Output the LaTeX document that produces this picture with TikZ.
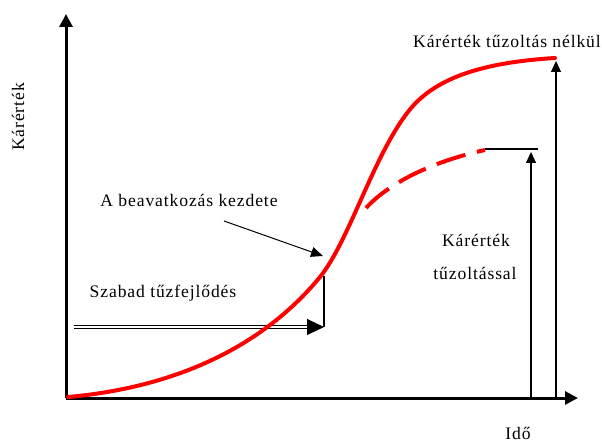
\documentclass[tikz,border=0pt]{standalone}
\usepackage{fontspec}
\setmainfont[LetterSpace=5]{Liberation Serif}
\usetikzlibrary{arrows.meta,calc}

\begin{document}
\begin{tikzpicture}[x=1pt,y=-1pt,
  lbl/.style={font=\fontsize{17.6}{20}\selectfont, inner sep=0pt, anchor=base},
  axis/.style={line width=3pt, -{Triangle[length=13pt,width=13pt]}},
  fire/.style={red, line width=4pt, line cap=round, line join=round},
  pointer/.style={line width=1.1pt, -{Triangle[length=11pt,width=10pt]}},
  marker/.style={line width=1.1pt}]
  \useasboundingbox (0,0) rectangle (602,443);

  % axes
  \coordinate (O)  at (66,398);
  \coordinate (Y)  at (66,14);
  \coordinate (X)  at (578,398);
  \draw[axis] (O) -- (Y);
  \draw[axis] (O) -- (X);

  % damage markers on the time axis
  \coordinate (m1b) at (531,398);
  \coordinate (m1t) at (531,152);
  \coordinate (m2b) at (556,398);
  \coordinate (m2t) at (556,61);
  \coordinate (capL) at (485,149);
  \coordinate (capR) at (538,149);
  \draw[pointer] (m1b) -- (m1t);
  \draw[pointer] (m2b) -- (m2t);
  \draw[marker] (capL) -- (capR);

  % free fire development (double arrow) and intervention step
  \coordinate (fs) at (74,327);
  \coordinate (fe) at (309,327);
  \coordinate (ft) at (324,327);
  \coordinate (fu) at (324,276);
  \draw[line width=1.3pt, double, double distance=1.3pt] (fs) -- (fe);
  \draw[line width=1pt, -{Triangle[length=17pt,width=16pt]}] (fe) -- (ft);
  \draw[line width=1.1pt] (ft) -- (fu);

  % fire damage without suppression
  \coordinate (c0) at (68,397);
  \coordinate (c1) at (320,277);
  \coordinate (c2) at (412,107);
  \coordinate (c3) at (555,58);
  \draw[fire] (c0) .. controls (170,388) and (260,350) .. (c1)
                   .. controls (350,240) and (375,150) .. (c2)
                   .. controls (440,75) and (490,62) .. (c3);

  % fire damage with suppression
  \coordinate (d0) at (366,208);
  \coordinate (d1) at (485,150);
  \draw[fire, line cap=butt, dash pattern=on 30pt off 12pt]
    (d0) .. controls (388,184) and (430,162) .. (d1);

  % labels
  \node[lbl] (top)  at (507,48)  {Kárérték tűzoltás nélkül};
  \node[lbl] (beav) at (189,207) {A beavatkozás kezdete};
  \node[lbl] (szab) at (163,298) {Szabad tűzfejlődés};
  \node[lbl] (kt1)  at (476,247) {Kárérték};
  \node[lbl] (kt2)  at (475,280) {tűzoltással};
  \node[lbl] (ido)  at (518,439) {Idő};
  \node[lbl, rotate=90] (ylab) at (24,117) {Kárérték};

  % pointer to the start of intervention
  \coordinate (bs) at (224,221);
  \coordinate (be) at (323,256);
  \draw[line width=1pt, -{Triangle[length=12pt,width=10pt]}] (bs) -- (be);
\end{tikzpicture}
\end{document}
